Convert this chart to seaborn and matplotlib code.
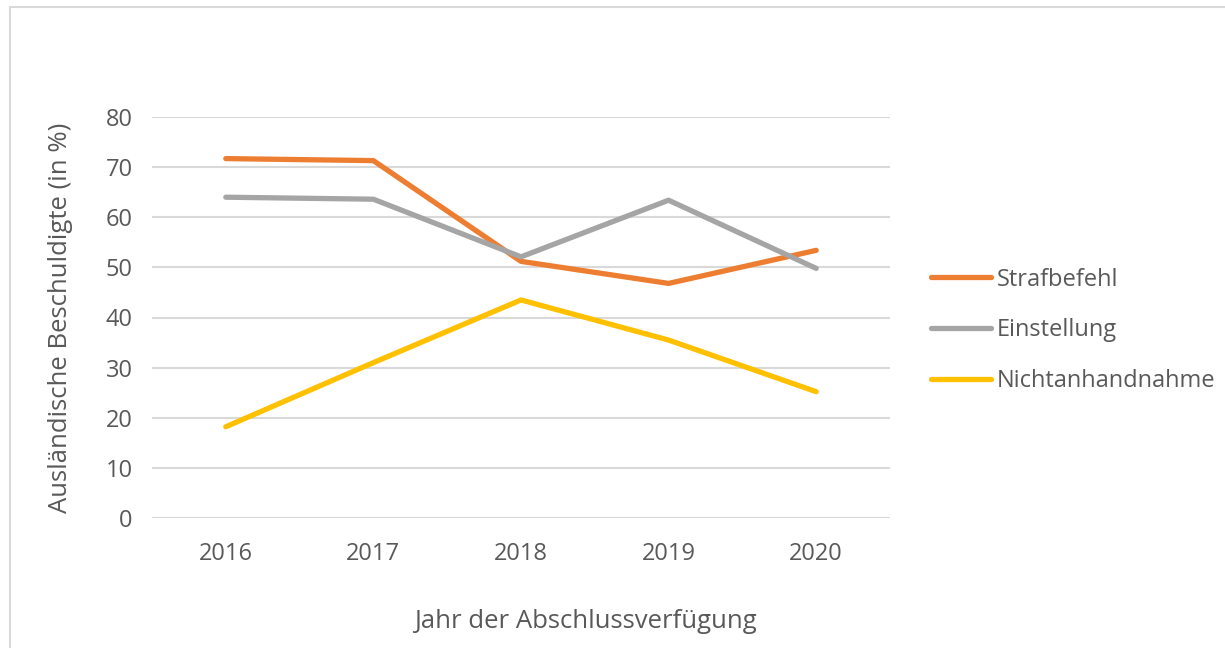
import pandas as pd
import matplotlib
matplotlib.use("Agg")
import matplotlib.pyplot as plt
from matplotlib.patches import Rectangle
import seaborn as sns

# Werte (in %)
jahre = ["2016", "2017", "2018", "2019", "2020"]
strafbefehl = [71.7, 71.3, 51.2, 46.8, 53.4]
einstellung = [64.0, 63.6, 52.1, 63.4, 49.8]
nichtanhandnahme = [18.2, 31.0, 43.5, 35.5, 25.2]

serien = ["Strafbefehl", "Einstellung", "Nichtanhandnahme"]
farben = ["#ED7D31", "#A5A5A5", "#FFC000"]

df = pd.DataFrame({
    "Jahr": jahre * 3,
    "Wert": strafbefehl + einstellung + nichtanhandnahme,
    "Art": [s for s in serien for _ in jahre],
})

sns.set_style("white")
plt.rcParams["font.family"] = ["Open Sans", "DejaVu Sans"]
txt = "#595959"

fig = plt.figure(figsize=(12.25, 6.48), dpi=100)
ax = fig.add_axes([152 / 1225, 1 - 518 / 648, 738 / 1225, 401 / 648])

sns.lineplot(data=df, x="Jahr", y="Wert", hue="Art", palette=farben,
             linewidth=3.8, sort=False, ax=ax, solid_capstyle="round")

ax.set_xlim(-0.5, 4.5)
ax.set_ylim(0, 80)
ax.set_yticks(range(0, 81, 10))
ax.yaxis.grid(True, color="#D9D9D9", linewidth=1.5)
ax.set_axisbelow(True)
for s in ax.spines.values():
    s.set_visible(False)
ax.tick_params(axis="both", length=0, labelsize=17, labelcolor=txt)
ax.tick_params(axis="x", pad=17)
ax.tick_params(axis="y", pad=14)

ax.set_xlabel("Jahr der Abschlussverfügung", fontsize=18.5, color=txt, labelpad=31)
ax.xaxis.label.set_x(0.587)
ax.set_ylabel("Ausländische Beschuldigte (in %)", fontsize=18.5, color=txt, labelpad=23)

leg = ax.legend(loc="center left", bbox_to_anchor=(931 / 1225, 1 - 330.5 / 648),
                bbox_transform=fig.transFigure, frameon=False, fontsize=17,
                handlelength=2.55, handletextpad=0.25, labelspacing=1.14,
                borderpad=0, borderaxespad=0)
for t in leg.get_texts():
    t.set_color(txt)
for l in leg.get_lines():
    l.set_linewidth(3.8)
    l.set_solid_capstyle("round")

fig.patches.append(Rectangle((10 / 1225, -0.01), 1.0, 1 - 7 / 648 + 0.01,
                             transform=fig.transFigure, fill=False,
                             edgecolor="#D9D9D9", linewidth=1.5))

fig.savefig("out.png", dpi=100)
